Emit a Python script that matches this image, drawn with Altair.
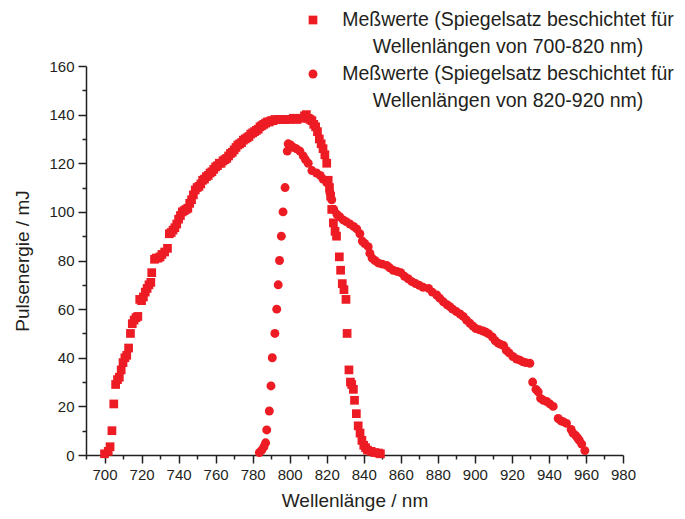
import altair as alt
import pandas as pd

# Square series: Spiegelsatz 700-820 nm
sq_wl = [700, 702, 703, 704, 705, 706, 707, 708, 709, 710, 711, 712, 713, 714, 715, 716, 717, 718, 719, 720,
         721, 722, 723, 724, 725, 725.5, 727, 728, 729, 730, 731, 732.5, 734, 735, 736, 737, 738, 739, 740,
         741, 742, 743, 744, 745, 746, 747, 748, 749, 750, 751, 752, 753, 754, 755, 756, 757, 758, 759, 760,
         761, 762, 763, 764, 765, 766, 767, 768, 769, 770, 771, 772, 773, 774, 775, 776, 777, 778, 779, 780,
         781, 782, 783, 784, 785, 786, 787, 788, 789, 790, 791, 792, 794, 796, 798, 800, 802, 804, 806, 808,
         809, 810, 811, 812, 813, 814, 815, 816, 817, 818, 819, 820, 820.8, 821.5, 822.1, 822.7, 823.6,
         824.5, 825.3, 826.8, 827.5, 828.4, 829.3, 830.4, 831, 832, 832.8, 833.5, 834.4, 835, 836, 837, 838,
         839, 840, 841, 842, 844, 846, 848, 849]
sq_e = [0.5, 1.5, 3.4, 10, 21, 29, 31, 32, 35, 38, 40, 41, 44, 50, 54, 55.5, 56.5, 57, 64, 63.5,
        65, 67, 68.5, 70, 71, 75, 80.5, 81, 81, 81.5, 82.5, 83.5, 85, 91, 91.5, 92.5, 93.5, 95, 97,
        98.5, 100, 100.5, 101, 101.5, 103.5, 105, 107, 109, 110, 110.5, 111.5, 113, 113.5, 114.5, 115, 116, 116.5, 117.5, 118.5,
        119, 120, 120, 121, 121.5, 122, 123, 124, 124.5, 125.5, 126.5, 127.5, 128, 128.5, 129.5, 130, 130.5, 131, 132, 132.5,
        133, 133.5, 134, 135, 135.5, 136, 136.5, 137, 137, 137.5, 137.5, 138, 138, 138, 138, 138, 138.5, 138, 138.5, 139.5,
        140, 138.5, 138, 137.5, 136, 135, 133, 130, 128, 126, 123.5, 120, 113, 110, 106.5, 101, 95.5,
        92, 90, 81.5, 76, 70.5, 68, 64, 50, 35, 30, 29, 27, 22.5, 17, 12, 9,
        6, 4, 3, 2, 1.5, 1, 0.8, 0.5]

# Circle series: Spiegelsatz 820-920 nm
ci_wl = [783.6, 784.9, 786.1, 787, 787.6, 789, 789.9, 790.6, 792, 793, 793.8, 794.5, 795.5, 796.4, 797.5,
         798.7, 799.2, 800.5, 802, 803.5, 805.5, 807.3, 808.5, 810, 812, 814.5, 816.5, 818, 820, 821.7, 822.7,
         823.8, 825.5, 827, 828.9, 830.5, 832.5, 834.5, 836.2, 837.9, 839.2, 840.5, 842.4, 843.3, 844.5, 846,
         847.8, 850, 852.4, 854, 855.9, 858, 860, 862, 864, 866, 868, 870, 872, 875, 877, 879.4, 881, 883,
         885, 886.5, 888, 890, 892, 893.7, 895.5, 897.3, 899, 900.5, 902.5, 904.5, 906, 907.5, 909.5, 911,
         912.6, 914, 915.5, 917, 918.5, 920.5, 922.5, 924.3, 926, 927.5, 929.7, 931.2, 933, 934.2, 935.5,
         937, 938.8, 940.5, 942.3, 945, 946.5, 947.7, 949.5, 952, 953, 954.5, 955.5, 956.4, 957.7, 959.4]
ci_e = [1, 2, 3.4, 5, 10.3, 18.1, 28.4, 40, 50, 60, 70, 80, 90, 100, 110,
        125, 128, 127.5, 126.5, 126, 125, 123, 121.5, 120, 117, 116, 115, 113.5, 112, 108, 105,
        101, 99, 98, 96.7, 96, 95, 94, 93, 91, 88, 87, 85.7, 83, 81, 80,
        79, 78.5, 78, 77, 76, 75.5, 75, 73.5, 72.5, 71.3, 70.5, 69.8, 69, 68.5, 67, 65.8, 64.5, 63,
        61.8, 61, 60, 59, 58, 57, 55.5, 54.2, 53, 52, 51.5, 51, 50.5, 49.8, 48.5, 47,
        46, 45.5, 45, 43, 42, 40.5, 39.5, 39, 38.3, 38, 37.7, 30, 27, 26, 23.3,
        22.5, 22, 21, 20, 15, 14, 13.7, 13, 10.5, 9, 8, 7, 6, 4.5, 1.8]

legend_labels = [
    ["Meßwerte (Spiegelsatz beschichtet für", "Wellenlängen von 700-820 nm)"],
    ["Meßwerte (Spiegelsatz beschichtet für", "Wellenlängen von 820-920 nm)"],
]
x_major = list(range(700, 981, 20))
x_minor = list(range(690, 981, 20))
y_major = list(range(0, 161, 20))
y_minor = list(range(10, 161, 20))

RED = "#ED1C24"
INK = "#231F20"
FONT = "Liberation Sans"

df_sq = pd.DataFrame({"wl": sq_wl, "e": sq_e})
df_ci = pd.DataFrame({"wl": ci_wl, "e": ci_e})

x_scale = alt.Scale(domain=[690, 980], nice=False, zero=False)
y_scale = alt.Scale(domain=[0, 160], nice=False)

common = dict(labelOverlap=False, labelFlush=False, labelBound=False, grid=False)

x_major_axis = alt.Axis(values=x_major, tickSize=8, title="Wellenlänge / nm", titlePadding=9,
                        labelPadding=4, orient="bottom", **common)
y_major_axis = alt.Axis(values=y_major, tickSize=8, title="Pulsenergie / mJ", titlePadding=16,
                        labelPadding=4, orient="left", **common)
x_minor_axis = alt.Axis(values=x_minor, tickSize=4, labels=False, title=None, orient="bottom",
                        domain=False, grid=False)
y_minor_axis = alt.Axis(values=y_minor, tickSize=4, labels=False, title=None, orient="left",
                        domain=False, grid=False)

squares = alt.Chart(df_sq).mark_point(shape="square", filled=True, size=76, color=RED, opacity=1,
                                      strokeWidth=0).encode(
    x=alt.X("wl:Q", scale=x_scale, axis=x_major_axis),
    y=alt.Y("e:Q", scale=y_scale, axis=y_major_axis))
circles = alt.Chart(df_ci).mark_point(shape="circle", filled=True, size=80, color=RED, opacity=1,
                                      strokeWidth=0).encode(
    x=alt.X("wl:Q", scale=x_scale, axis=x_minor_axis),
    y=alt.Y("e:Q", scale=y_scale, axis=y_minor_axis))

one = pd.DataFrame({"k": [0]})
legend_layers = []
sym_x = 227
txt_x = 422
row_y = [-46, 8]
line_gap = 27
shapes = ["square", "circle"]
sizes = [76, 80]
for i in range(2):
    legend_layers.append(
        alt.Chart(one).mark_point(shape=shapes[i], filled=True, size=sizes[i], color=RED, opacity=1,
                                  strokeWidth=0)
        .encode(x=alt.value(sym_x), y=alt.value(row_y[i]))
    )
    for j, line in enumerate(legend_labels[i]):
        legend_layers.append(
            alt.Chart(one).mark_text(font=FONT, fontSize=19.5, color=INK, align="center",
                                     baseline="middle")
            .encode(x=alt.value(txt_x), y=alt.value(row_y[i] + j * line_gap), text=alt.value(line))
        )

chart = alt.layer(squares, circles, *legend_layers).resolve_axis(
    x="independent", y="independent"
).properties(
    width=537, height=389,
    autosize=alt.AutoSizeParams(type="none"),
    padding={"left": 78, "top": 58, "right": 54, "bottom": 56},
).configure_view(stroke=None).configure_axis(
    domainColor=INK, domainWidth=1.5,
    tickColor=INK, tickWidth=1.5,
    labelFont=FONT, labelFontSize=15, labelColor=INK,
    titleFont=FONT, titleFontSize=19, titleFontWeight="normal", titleColor=INK,
)

chart.save("out.html", embed_options={"renderer": "svg", "actions": False})
